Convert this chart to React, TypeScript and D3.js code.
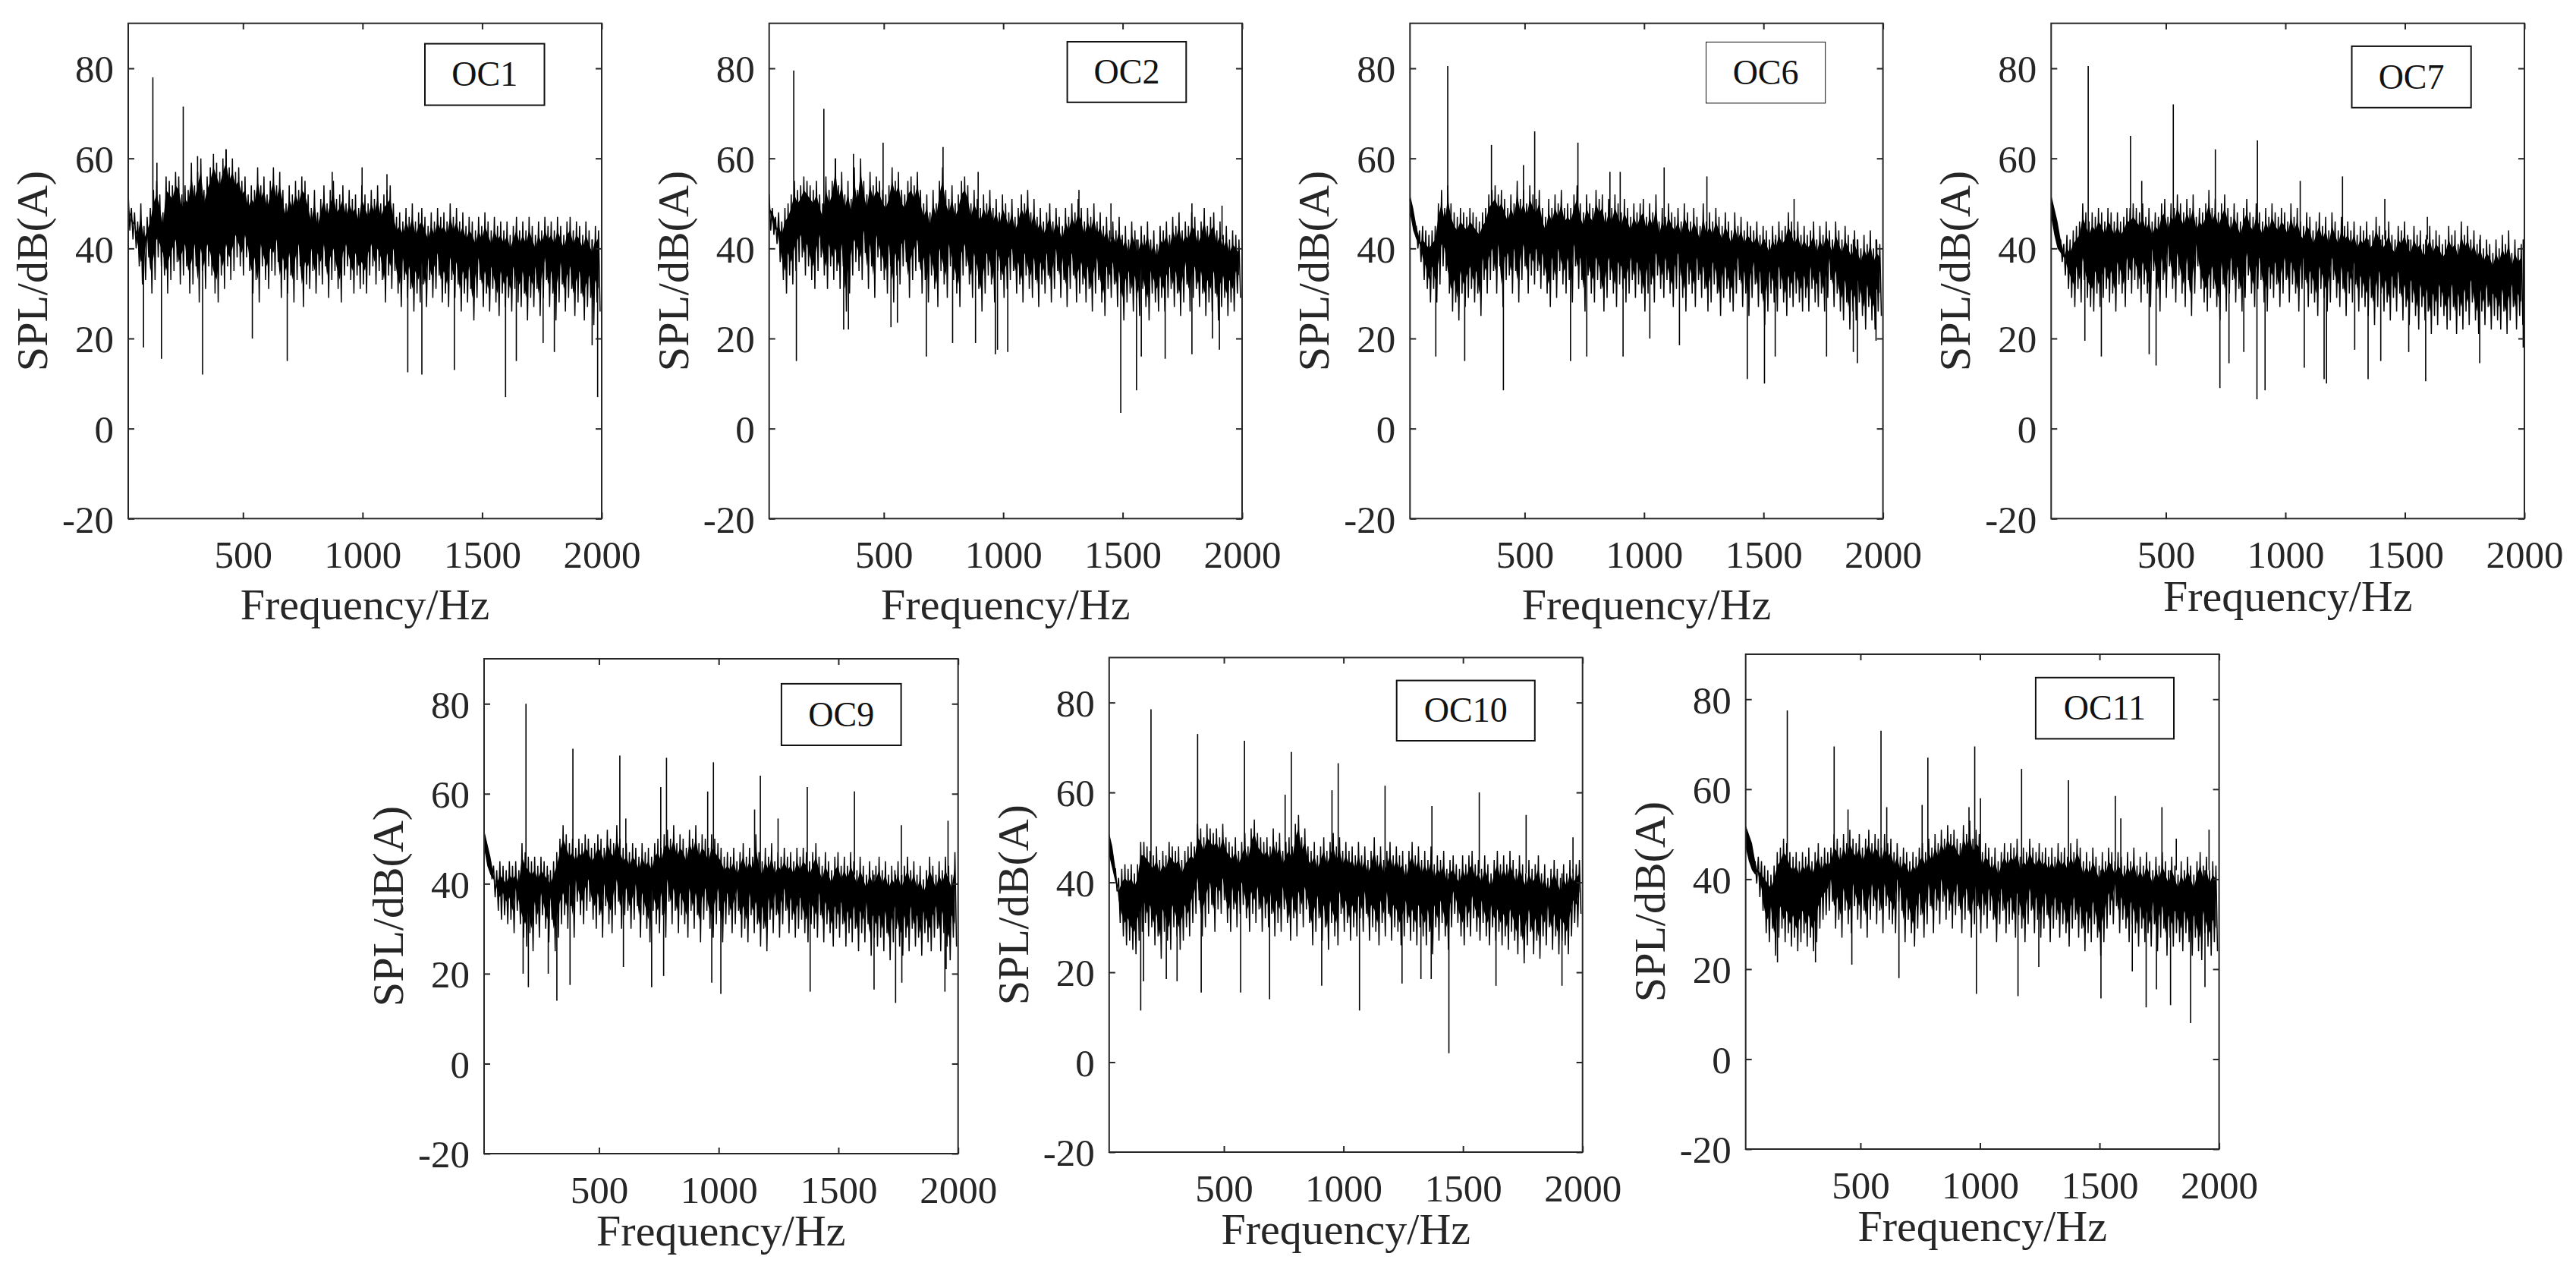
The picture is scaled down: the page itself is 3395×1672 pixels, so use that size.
import React, { useRef, useEffect } from 'react';
import * as d3 from 'd3';

const xTicks = [500, 1000, 1500, 2000];
const yTicks = [-20, 0, 20, 40, 60, 80];

// noise tips, 150 columns from 20 to 2000 Hz
const oc1Upper = [
  52,49,48,46,50,45,47,49,53,55,52,48,56,55,54,57,56,52,54,53,59,54,57,60,53,
  56,58,61,59,57,60,62,58,60,57,58,55,56,52,54,53,58,54,56,52,55,58,54,57,53,
  50,54,52,55,53,56,55,52,49,53,48,51,54,50,53,55,51,52,54,50,53,51,52,49,54,
  52,50,53,51,54,50,52,53,54,50,47,48,46,49,47,50,46,48,49,47,45,48,46,49,47,
  48,46,50,47,49,46,48,45,47,46,44,47,45,48,46,44,47,45,46,44,46,43,45,47,44,
  46,44,47,45,43,46,44,47,45,46,44,47,45,43,46,47,44,46,45,43,46,44,42,45,44,
];
const oc1Lower = [
  44,42,40,36,32,33,38,30,33,38,36,34,30,33,35,37,32,34,36,30,32,36,28,35,31,
  36,34,30,28,34,31,36,33,35,38,36,34,38,35,30,33,28,36,33,31,35,34,37,29,33,
  30,34,28,33,36,27,32,31,35,30,34,32,36,29,33,35,31,28,34,36,33,30,34,31,32,
  30,34,36,32,35,33,28,34,31,35,30,27,33,29,31,26,30,28,32,27,33,29,31,34,28,
  30,27,33,29,32,26,30,28,31,24,29,33,27,30,26,31,28,25,30,27,29,26,31,28,27,
  30,24,29,27,31,25,29,33,27,30,24,28,32,26,29,31,25,28,30,24,27,29,23,28,26,
];
const oc2Upper = [
  52,49,47,48,46,49,50,52,55,53,54,56,55,54,53,55,52,50,56,53,55,60,54,57,52,
  55,51,58,53,60,55,52,57,54,56,55,53,52,54,58,55,57,53,52,55,56,54,57,53,50,
  52,48,53,50,55,58,53,51,54,50,52,55,56,54,50,53,51,49,52,50,53,49,51,48,52,
  50,48,51,47,49,52,50,53,48,51,47,49,46,48,50,46,49,47,45,49,47,50,48,51,49,
  46,49,47,50,46,48,45,47,44,46,44,47,43,45,42,46,44,42,45,43,46,42,44,41,45,
  44,46,43,47,45,48,44,46,45,48,47,44,46,49,45,47,48,44,46,43,45,42,44,43,42,
];
const oc2Lower = [
  44,43,41,37,33,30,34,32,35,37,38,34,36,33,31,35,38,34,31,36,33,35,31,36,26,
  30,34,37,35,33,39,31,36,29,38,35,33,30,36,28,34,32,36,37,29,33,35,37,30,33,
  28,34,31,27,35,32,29,36,33,30,27,34,36,32,29,34,31,26,30,34,32,28,35,33,29,
  31,33,35,30,32,28,34,31,29,33,27,32,30,34,28,31,35,29,33,27,31,34,28,30,32,
  28,31,26,30,33,28,25,31,29,32,27,30,24,28,30,26,29,25,31,27,24,30,28,26,29,
  26,29,31,27,30,25,28,32,26,29,31,27,30,25,28,26,30,24,27,29,25,28,26,30,29,
];
const oc6Upper = [
  51,47,45,44,45,44,43,44,45,50,53,49,54,50,48,47,49,48,47,49,48,47,46,48,49,
  52,53,54,52,53,51,49,52,50,55,51,53,50,54,52,51,53,49,47,51,49,52,50,53,49,
  50,49,52,54,50,48,52,50,49,53,51,52,48,51,49,52,50,48,51,49,47,50,48,50,51,
  47,50,48,52,46,49,47,50,48,47,49,46,50,48,46,49,47,45,50,46,48,46,49,47,45,
  48,46,44,48,45,47,44,46,45,44,46,43,45,44,42,45,43,46,44,45,48,46,44,46,43,
  45,43,44,46,42,45,43,46,44,42,46,44,42,45,43,41,44,42,40,43,41,44,40,42,41,
];
const oc6Lower = [
  47,44,40,37,33,31,28,31,28,32,36,35,30,26,28,24,30,27,29,31,28,30,25,33,30,
  33,35,30,36,27,33,34,30,35,28,33,36,30,34,32,35,31,34,30,27,33,29,35,32,30,
  33,28,36,31,33,26,34,30,28,33,31,26,29,33,30,27,32,31,28,30,33,29,32,30,26,
  30,32,28,34,31,29,33,30,27,31,34,29,26,32,30,27,33,29,31,26,28,32,30,25,29,
  31,28,26,30,33,27,30,25,29,32,27,30,23,26,30,28,26,31,28,25,29,27,30,28,26,
  29,26,31,28,27,30,26,29,33,27,30,26,24,28,22,26,24,28,25,22,27,24,22,26,25,
];
const oc7Upper = [
  50,46,43,42,41,43,42,44,45,46,50,48,46,48,47,49,48,46,49,48,46,48,46,47,49,
  49,50,49,48,50,47,49,46,48,47,50,51,47,50,49,52,50,48,51,49,52,47,49,48,50,
  53,49,51,48,50,52,49,47,50,48,46,49,51,48,47,50,48,46,49,47,50,48,47,49,48,
  46,50,47,49,46,45,48,47,44,46,48,45,47,44,48,46,44,47,45,46,44,46,43,45,44,
  46,43,44,47,45,43,44,46,43,42,45,44,46,43,42,45,43,44,41,43,45,42,44,43,41,
  42,45,43,44,41,46,43,45,42,44,41,43,40,42,41,39,42,40,43,41,44,39,42,40,41,
];
const oc7Lower = [
  47,44,41,37,34,31,29,27,31,28,33,29,27,26,30,27,29,31,28,30,26,32,30,27,33,
  30,33,31,28,32,30,27,35,31,26,33,29,36,31,28,34,30,27,33,25,30,36,31,28,26,
  29,31,27,24,32,26,30,33,28,31,26,29,34,30,27,31,33,28,26,31,29,32,27,30,33,
  28,32,30,26,31,33,27,30,28,25,31,29,26,28,33,29,27,31,25,30,28,32,26,29,27,
  25,29,23,27,30,26,28,24,29,26,30,24,27,23,28,25,22,27,24,26,21,25,23,27,25,
  22,24,27,21,25,22,26,23,28,24,21,26,23,27,22,25,24,22,26,21,24,27,22,25,23,
];
const oc9Upper = [
  51,47,45,44,43,45,44,43,45,44,45,43,49,47,46,45,46,44,46,45,44,43,45,47,50,
  53,51,49,50,48,50,49,51,50,48,49,51,50,48,52,50,49,53,50,48,49,47,49,48,46,
  49,47,48,46,49,50,48,51,52,50,53,49,51,50,48,52,50,53,49,51,50,48,51,50,49,
  48,46,47,46,48,45,47,49,46,48,46,51,47,45,48,46,49,45,47,46,48,46,47,45,48,
  46,48,47,45,47,49,46,44,47,45,43,46,47,44,46,44,47,45,43,46,44,42,45,43,44,
  46,43,45,42,44,43,45,42,44,46,43,45,42,44,41,43,46,44,42,45,43,46,44,42,47,
];
const oc9Lower = [
  47,44,41,37,34,32,33,31,32,29,34,31,28,26,29,25,31,28,33,30,27,32,25,28,31,
  33,30,35,28,36,33,31,34,36,32,30,33,28,35,31,29,33,36,30,33,34,30,32,35,28,
  33,30,27,34,31,29,33,28,36,31,34,29,33,31,28,34,30,33,27,32,34,30,28,31,34,
  27,31,33,29,31,34,28,30,27,33,29,31,26,30,25,32,29,33,28,31,34,29,32,28,30,
  32,29,27,31,30,28,33,27,31,29,26,30,28,31,26,29,27,30,25,29,27,31,24,28,26,
  28,25,29,23,27,30,26,24,28,25,30,26,28,24,29,27,25,28,30,25,29,26,23,28,26,
];
const oc10Upper = [
  49,46,43,41,43,44,43,44,42,44,49,49,48,47,46,48,45,47,46,49,48,47,48,45,47,
  48,49,48,53,52,50,53,52,51,52,50,53,50,49,48,50,47,49,51,48,52,54,51,50,49,
  50,48,52,49,51,47,49,50,48,53,55,50,52,48,47,49,46,48,50,47,49,51,48,50,47,
  49,47,48,46,49,46,48,45,47,50,46,48,45,47,49,46,48,46,47,44,47,49,46,48,45,
  47,45,48,44,46,45,47,43,45,46,44,43,46,44,46,47,44,45,43,46,44,42,45,47,44,
  46,44,47,45,43,46,44,42,45,43,44,46,42,44,41,43,45,43,41,44,42,45,43,44,45,
];
const oc10Lower = [
  46,43,38,31,28,26,27,25,24,27,29,31,28,30,26,28,23,29,27,25,30,28,25,27,30,
  28,31,33,36,28,30,33,35,29,34,33,36,31,29,34,30,33,35,32,29,33,31,34,29,32,
  30,33,28,31,29,34,31,27,32,28,33,30,34,31,26,29,32,27,30,25,31,28,26,33,29,
  31,27,30,28,32,29,33,27,30,29,26,31,28,33,27,30,29,26,28,31,27,29,26,30,28,
  26,29,24,30,27,31,28,25,30,33,31,28,26,30,28,32,29,27,31,28,26,30,27,29,26,
  28,25,29,27,24,28,22,26,29,24,27,23,28,26,30,25,28,24,27,26,24,28,31,30,33,
];
const oc11Upper = [
  50,47,45,44,45,44,43,42,41,43,46,47,49,48,46,45,46,44,46,45,47,44,46,48,45,
  47,46,47,50,49,47,50,48,51,49,48,50,47,49,51,48,50,49,47,50,48,49,46,48,45,
  47,46,44,46,45,47,48,46,49,47,50,48,51,49,52,50,51,49,48,52,50,53,49,51,50,
  46,48,47,45,47,44,46,48,46,48,47,49,45,47,46,49,47,46,48,46,47,45,47,45,48,
  46,47,45,48,46,49,47,44,46,44,47,45,43,46,44,47,46,44,46,45,43,46,44,47,43,
  45,43,46,44,42,45,43,46,44,42,45,43,41,44,42,45,43,41,44,46,43,45,42,44,43,
];
const oc11Lower = [
  47,45,43,39,36,33,28,26,29,23,27,29,26,28,25,27,24,26,28,25,27,24,26,29,31,
  32,33,35,29,31,27,33,30,28,34,31,29,33,27,31,34,30,33,28,34,31,30,28,35,33,
  26,31,28,25,29,32,27,30,34,28,33,30,35,31,33,29,32,34,28,31,33,27,30,34,28,
  32,29,33,31,26,30,33,28,30,31,27,32,29,26,30,33,28,31,27,29,32,26,29,31,27,
  30,28,25,29,31,27,29,24,28,26,30,27,23,26,29,32,30,34,28,31,29,26,30,28,25,
  29,26,28,25,30,24,27,29,23,27,25,28,26,24,28,26,23,27,24,22,28,25,23,26,24,
];

// tall tonal lines and deep notches, [Hz, dB]
const oc1Stems = [[123,78],[250,71.5],[429,62],[310,60.5],[140,59],[998,58],[873,57],[1102,56.5],[84,18],[159,15.5],[331,12],[539,20],[685,15],[1189,12.5],[1248,12],[1384,13],[1598,7],[1643,15],[1983,7],[1802,17],[1755,19],[1960,18.5]];
const oc2Stems = [[123,79.5],[249,71],[497,63.5],[748,62.5],[297,60],[373,61],[895,57],[1317,53],[1451,50],[1790,50],[1916,49.5],[134,15],[678,16],[1492,3.5],[1558,8.5],[967,16.5],[976,17.5],[1019,17],[788,19],[884,19],[332,22],[352,22],[530,22.5],[557,23.5],[1578,16],[1678,15.5],[1790,16.5],[1905,17.5],[1876,20]];
const oc6Stems = [[178,80.5],[361,63],[542,66],[723,63.5],[1084,58],[857,57],[900,57],[1263,56],[495,58.5],[1628,51],[411,8.5],[128,16],[249,15],[692,15],[760,16],[912,16],[1432,11],[1504,10],[1549,16],[1764,16],[1876,17],[1893,14.5],[1148,18.5],[1024,20],[1971,19.5]];
const oc7Stems = [[175,80.5],[352,65],[531,72],[707,62],[883,64],[1062,55],[1239,56],[399,55],[1416,51],[1594,47],[881,6.5],[726,9],[915,8.5],[1162,11],[1172,10],[1346,11],[1587,10.5],[459,14],[430,16.5],[230,16],[161,19.5],[1079,13.5],[764,14.5],[826,17],[1399,15],[1813,14.5],[1995,18],[1516,17],[1290,17.5]];
const oc9Stems = [[195,80],[391,70],[587,68.5],[782,68],[978,67],[1174,64],[1370,61.5],[1567,60.5],[1763,53],[1958,54],[758,61.5],[954,60.5],[1150,56.5],[1248,54.5],[612,54.5],[205,17],[324,14],[379,17.5],[602,21.5],[720,17],[770,19.5],[971,18],[1009,15.5],[1382,16],[1649,16.5],[1739,13.5],[1765,18],[1945,16],[1950,21],[288,20],[183,20]];
const oc10Stems = [[195,78.5],[390,73],[586,71.5],[782,69],[978,66.5],[1174,61.5],[1370,57],[1568,60],[1764,55],[756,59.5],[952,60.5],[1960,50],[152,11.5],[405,15.5],[570,15.5],[691,14],[909,17],[1067,11.5],[1441,2],[1245,17.5],[1638,17],[1914,17],[304,18],[259,18.5],[164,18],[1367,18.5],[1324,18.5]];
const oc11Stems = [[194,77.5],[390,69.5],[586,73],[782,67],[978,69.5],[1174,64.5],[1370,62],[1566,58.5],[1761,56],[1958,51],[758,56.5],[954,56],[1002,58],[610,56],[448,55.5],[1589,53.5],[1821,49],[661,18],[985,14.5],[1159,14],[1506,13.5],[1695,11.5],[1797,12],[1881,8],[1941,16],[1738,15.5],[1637,19.5],[1246,20.5],[464,21],[153,21.5],[312,21.5]];

const panels = [
  { name: 'OC1', upper: oc1Upper, lower: oc1Lower, stems: oc1Stems, left: 169, right: 793, top: 30.7, bottom: 683.3, labelY: 133, box: [560, 57.6, 717.5, 138.6], boxW: 2 },
  { name: 'OC2', upper: oc2Upper, lower: oc2Lower, stems: oc2Stems, left: 1013.7, right: 1637, top: 30.7, bottom: 683.3, labelY: 133, box: [1406.6, 55, 1563.3, 134.8], boxW: 2 },
  { name: 'OC6', upper: oc6Upper, lower: oc6Lower, stems: oc6Stems, left: 1858.3, right: 2481.6, top: 30.7, bottom: 683.3, labelY: 133, box: [2248.5, 55.4, 2405.7, 135.9], boxW: 1 },
  { name: 'OC7', upper: oc7Upper, lower: oc7Lower, stems: oc7Stems, left: 2703.3, right: 3327, top: 30.7, bottom: 683.3, labelY: 122, box: [3099.5, 60.9, 3256.7, 141.8], boxW: 2 },
  { name: 'OC9', upper: oc9Upper, lower: oc9Lower, stems: oc9Stems, left: 638, right: 1262.7, top: 868, bottom: 1520, labelY: 121, box: [1029.9, 900.9, 1187.6, 982], boxW: 2 },
  { name: 'OC10', upper: oc10Upper, lower: oc10Lower, stems: oc10Stems, left: 1461.8, right: 2085.7, top: 866.4, bottom: 1518, labelY: 121, box: [1840.7, 896.6, 2022.8, 976], boxW: 2 },
  { name: 'OC11', upper: oc11Upper, lower: oc11Lower, stems: oc11Stems, left: 2300.7, right: 2924.6, top: 862, bottom: 1514, labelY: 121, box: [2682.9, 892.8, 2865, 973.4], boxW: 2 },
];

const FONT = '"Liberation Serif", serif';
const INK = '#262626';

const App = () => {
  const svgRef = useRef<SVGSVGElement>(null);

  useEffect(() => {
    const svg = d3.select(svgRef.current);
    svg.selectAll('*').remove();

    panels.forEach(p => {
      const x = d3.scaleLinear().domain([20, 2000]).range([p.left, p.right]);
      const y = d3.scaleLinear().domain([-20, 90]).range([p.bottom, p.top]);
      const g = svg.append('g').attr('class', p.name);

      const step = 1980 / p.upper.length;

      // Solid middle of the trace, a little inside the tips
      const band = d3.area<number>()
        .x((d, i) => x(20 + i * step))
        .y0((d, i) => y(p.lower[i] + 5))
        .y1(d => y(d - 3));
      g.append('path').attr('d', band(p.upper)).attr('fill', '#000');

      // Trace itself, each column goes tip to tip
      const pts: [number, number][] = [];
      p.upper.forEach((v, i) => {
        pts.push([20 + i * step, v]);
        pts.push([20 + (i + 0.5) * step, p.lower[i]]);
      });
      const line = d3.line().x(d => x(d[0])).y(d => y(d[1]));
      g.append('path')
        .attr('d', line(pts))
        .attr('fill', 'none')
        .attr('stroke', '#000')
        .attr('stroke-width', 1.5);

      g.selectAll('.stem')
        .data(p.stems)
        .join('line')
        .attr('class', 'stem')
        .attr('x1', d => x(d[0]))
        .attr('x2', d => x(d[0]))
        .attr('y1', y(42))
        .attr('y2', d => y(d[1]))
        .attr('stroke', '#000')
        .attr('stroke-width', 1.6);

      // Axes, ticks point inward on all four sides
      const bottomAxis = g.append('g')
        .attr('transform', `translate(0,${p.bottom})`)
        .call(d3.axisBottom(x).tickValues(xTicks).tickSize(-8).tickFormat(d => String(d)));
      bottomAxis.selectAll('text').attr('y', 65).attr('dy', 0);

      const leftAxis = g.append('g')
        .attr('transform', `translate(${p.left},0)`)
        .call(d3.axisLeft(y).tickValues(yTicks).tickSize(-8).tickFormat(d => String(d)));
      leftAxis.selectAll('text').attr('x', -19).attr('dy', '0.35em');

      g.append('g')
        .attr('transform', `translate(0,${p.top})`)
        .call(d3.axisTop(x).tickValues(xTicks).tickSize(-8).tickFormat(() => ''));
      g.append('g')
        .attr('transform', `translate(${p.right},0)`)
        .call(d3.axisRight(y).tickValues(yTicks).tickSize(-8).tickFormat(() => ''));

      g.selectAll('.domain').remove();
      g.selectAll('.tick line').attr('stroke', INK).attr('stroke-width', 2);
      g.selectAll('.tick text')
        .attr('fill', INK)
        .style('font-family', FONT)
        .style('font-size', '51px');

      g.append('rect')
        .attr('x', p.left)
        .attr('y', p.top)
        .attr('width', p.right - p.left)
        .attr('height', p.bottom - p.top)
        .attr('fill', 'none')
        .attr('stroke', INK)
        .attr('stroke-width', 2);

      g.append('text')
        .attr('x', (p.left + p.right) / 2)
        .attr('y', p.bottom + p.labelY)
        .attr('text-anchor', 'middle')
        .attr('fill', INK)
        .style('font-family', FONT)
        .style('font-size', '58px')
        .text('Frequency/Hz');

      g.append('text')
        .attr('transform', `translate(${p.left - 107},${(p.top + p.bottom) / 2}) rotate(-90)`)
        .attr('text-anchor', 'middle')
        .attr('fill', INK)
        .style('font-family', FONT)
        .style('font-size', '58px')
        .text('SPL/dB(A)');

      const [bx0, by0, bx1, by1] = p.box;
      g.append('rect')
        .attr('x', bx0)
        .attr('y', by0)
        .attr('width', bx1 - bx0)
        .attr('height', by1 - by0)
        .attr('fill', '#fff')
        .attr('stroke', '#111')
        .attr('stroke-width', p.boxW);
      g.append('text')
        .attr('x', (bx0 + bx1) / 2)
        .attr('y', (by0 + by1) / 2)
        .attr('dy', '0.33em')
        .attr('text-anchor', 'middle')
        .attr('fill', '#111')
        .style('font-family', FONT)
        .style('font-size', '46px')
        .text(p.name);
    });
  }, []);

  return (
    <svg
      ref={svgRef}
      width={3395}
      height={1672}
      style={{ position: 'absolute', left: 0, top: 0, display: 'block', background: '#fff' }}
    />
  );
};

export default App;
